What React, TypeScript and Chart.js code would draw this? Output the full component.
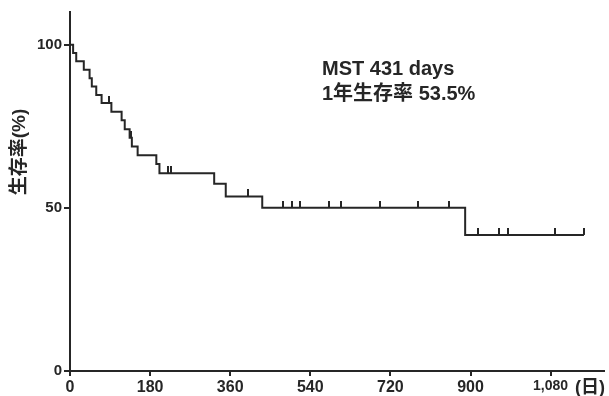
import React, { useEffect, useRef } from "react";
import { Chart, registerables } from "chart.js";

Chart.register(...registerables);

// Kaplan–Meier curve: event times (days) and survival (%) from that time onward
const eventDays = [0, 7, 14, 31, 44, 49, 59, 71, 93, 116, 123, 134, 139, 152, 194, 201, 324, 350, 432, 888, 1155];
const survival = [100, 97.4, 94.9, 92.3, 89.7, 87.2, 84.6, 82.1, 79.4, 76.8, 74.1, 71.5, 68.8, 66.1, 63.4, 60.6, 57.4, 53.5, 50.0, 41.7, 41.7];

// Censored observations
const censorDays = [88, 136, 221, 228, 400, 479, 499, 517, 582, 610, 697, 783, 852, 916, 964, 984, 1090, 1155];
const censorSurvival = [82.1, 71.5, 60.6, 60.6, 53.5, 50, 50, 50, 50, 50, 50, 50, 50, 41.7, 41.7, 41.7, 41.7, 41.7];

const xTicks = [0, 180, 360, 540, 720, 900, 1080];
const xTickLabels = ["0", "180", "360", "540", "720", "900", "1,080"];
const yTicks = [0, 50, 100];

const yTitle = "生存率(%)";
const xUnit = "(日)";
const noteLines = ["MST 431 days", "1年生存率 53.5%"];

const INK = "#262626";
const FONT = '"Liberation Sans", Arial, "Noto Sans CJK JP", sans-serif';

function makeCensorMark(): HTMLCanvasElement {
  const c = document.createElement("canvas");
  c.width = 2;
  c.height = 14;
  const g = c.getContext("2d")!;
  g.fillStyle = INK;
  g.fillRect(0, 0, 2, 7);
  return c;
}

const textPlugin = {
  id: "kmText",
  afterDraw(chart: any) {
    const ctx = chart.ctx as CanvasRenderingContext2D;
    ctx.save();
    ctx.fillStyle = INK;
    // annotation
    ctx.font = `bold 20px ${FONT}`;
    ctx.textAlign = "left";
    ctx.textBaseline = "alphabetic";
    ctx.fillText(noteLines[0], 322, 75);
    ctx.fillText(noteLines[1], 322, 100);
    // x unit
    ctx.font = `bold 18px ${FONT}`;
    ctx.textBaseline = "middle";
    ctx.fillText(xUnit, 575, 388);
    // y title
    ctx.translate(20, 152);
    ctx.rotate(-Math.PI / 2);
    ctx.textAlign = "center";
    ctx.font = `bold 19px ${FONT}`;
    ctx.fillText(yTitle, 0, 0);
    ctx.restore();
  },
};

export default function App() {
  const ref = useRef<HTMLCanvasElement | null>(null);

  useEffect(() => {
    if (!ref.current) return;
    const mark = makeCensorMark();
    const chart = new Chart(ref.current, {
      type: "line",
      data: {
        datasets: [
          {
            type: "line",
            data: eventDays.map((d, i) => ({ x: d, y: survival[i] })),
            stepped: "before",
            borderColor: INK,
            borderWidth: 2,
            pointRadius: 0,
            fill: false,
            order: 2,
          } as any,
          {
            type: "scatter",
            data: censorDays.map((d, i) => ({ x: d, y: censorSurvival[i] })),
            pointStyle: mark,
            pointRadius: 4,
            borderColor: INK,
            backgroundColor: INK,
            order: 1,
          } as any,
        ],
      },
      options: {
        responsive: false,
        animation: false,
        devicePixelRatio: 1,
        layout: { padding: { top: 12, right: 3, left: 0, bottom: 0 } },
        plugins: { legend: { display: false }, tooltip: { enabled: false } },
        scales: {
          x: {
            type: "linear",
            min: 0,
            max: 1200,
            afterBuildTicks: (s: any) => {
              s.ticks = xTicks.map((v) => ({ value: v }));
            },
            afterFit: (s: any) => {
              s.height = 25;
            },
            grid: { drawOnChartArea: false, drawTicks: true, tickLength: 5, color: INK, lineWidth: 2 },
            border: { display: true, color: INK, width: 2 },
            ticks: {
              color: INK,
              padding: 2,
              maxRotation: 0,
              autoSkip: false,
              font: (c: any) =>
                c.tick && c.tick.value === 1080
                  ? { family: FONT, size: 14, weight: "bold" }
                  : { family: FONT, size: 16, weight: "bold" },
              callback: (v: any) => {
                const i = xTicks.indexOf(Number(v));
                return i >= 0 ? xTickLabels[i] : "";
              },
            },
          },
          y: {
            type: "linear",
            min: 0,
            max: 110,
            afterBuildTicks: (s: any) => {
              s.ticks = yTicks.map((v) => ({ value: v }));
            },
            afterFit: (s: any) => {
              s.width = 70;
            },
            grid: { drawOnChartArea: false, drawTicks: true, tickLength: 6, color: INK, lineWidth: 2 },
            border: { display: true, color: INK, width: 2 },
            ticks: {
              color: INK,
              padding: 2,
              font: { family: FONT, size: 15, weight: "bold" },
            },
          },
        },
      },
      plugins: [textPlugin],
    });
    return () => chart.destroy();
  }, []);

  return (
    <div style={{ position: "absolute", left: 0, top: 0, width: 609, height: 396, background: "#fff" }}>
      <canvas ref={ref} width={609} height={396} />
    </div>
  );
}
